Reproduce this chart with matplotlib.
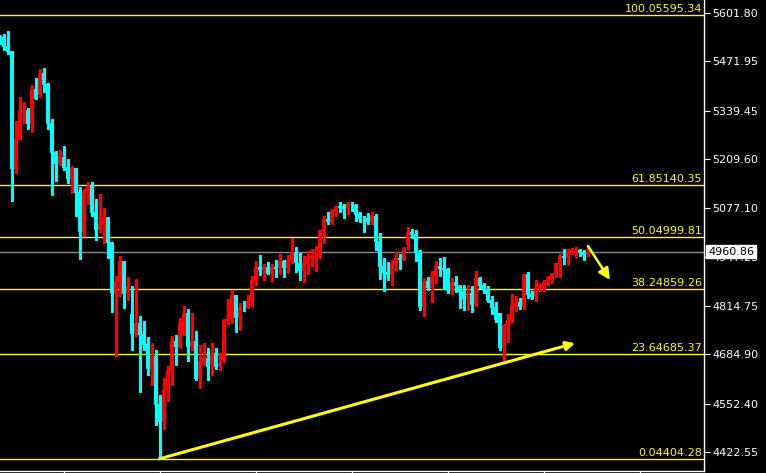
import numpy as np
import matplotlib.pyplot as plt

# daily candles (index -1 is the one cut by the left edge)
opens = [5537.3, 5537.3, 5513.2, 5499.7, 5182.7, 5263.3, 5335.8, 5341.2, 5303.7, 5397.6,
         5381.5, 5440.6, 5411.1, 5306.3, 5228.4, 5196.2, 5215.0, 5188.1, 5155.9, 5185.4,
         5120.9, 5013.5, 5118.2, 5137.1, 5067.2, 5018.9, 5032.3, 5053.8, 4986.6, 4849.6,
         4879.2, 4935.6, 4847.0, 4793.3, 4739.6, 4769.0, 4739.6, 4712.7, 4645.5, 4680.4,
         4551.5, 4503.1, 4586.4, 4640.1, 4720.7, 4704.6, 4742.2, 4795.9, 4704.6, 4720.7,
         4618.6, 4664.3, 4675.0, 4656.3, 4688.4, 4650.9, 4667.0, 4774.4, 4779.8, 4844.3,
         4782.5, 4812.0, 4809.3, 4825.4, 4881.9, 4919.5, 4911.4, 4919.5, 4900.7, 4919.5,
         4916.8, 4935.6, 4916.8, 4935.6, 4957.1, 4930.2, 4908.7, 4927.6, 4943.7, 4946.4,
         4946.4, 5016.2, 5048.4, 5040.3, 5069.9, 5083.4, 5083.4, 5075.3, 5086.1, 5086.1,
         5061.9, 5051.1, 5051.1, 5040.3, 5056.5, 4989.3, 4922.2, 4906.0, 4898.0, 4927.6,
         4943.7, 4938.3, 4978.6, 5013.5, 5008.2, 4962.5, 4812.0, 4881.9, 4863.1, 4895.3,
         4922.2, 4916.8, 4914.1, 4855.0, 4879.2, 4868.5, 4855.0, 4833.5, 4849.6, 4817.4,
         4889.9, 4871.2, 4860.4, 4830.8, 4812.0, 4795.9, 4702.0, 4761.0, 4774.4, 4814.7,
         4825.4, 4812.0, 4900.7, 4846.9, 4838.9, 4860.4, 4865.8, 4876.5, 4887.2, 4900.7,
         4927.6, 4949.1, 4943.7, 4959.8, 4962.5, 4965.2, 4959.8, 4951.8]
highs = [5542.7, 5545.4, 5553.4, 5499.7, 5311.7, 5376.1, 5362.7, 5346.6, 5408.4, 5427.2,
         5451.3, 5454.0, 5413.7, 5317.0, 5231.1, 5233.8, 5244.5, 5209.6, 5190.8, 5185.4,
         5134.4, 5129.0, 5147.8, 5147.8, 5102.1, 5115.6, 5078.0, 5053.8, 4986.6, 4895.3,
         4949.1, 4935.6, 4892.6, 4868.5, 4887.2, 4787.9, 4774.4, 4731.5, 4715.3, 4696.5,
         4575.7, 4621.3, 4653.6, 4734.2, 4736.9, 4782.5, 4814.7, 4806.6, 4795.9, 4747.6,
         4710.0, 4715.3, 4702.0, 4715.3, 4702.0, 4688.4, 4779.8, 4833.5, 4857.7, 4844.3,
         4822.7, 4828.1, 4844.3, 4895.3, 4935.6, 4951.8, 4927.6, 4932.9, 4927.6, 4938.3,
         4954.5, 4938.3, 4951.8, 4997.4, 4973.2, 4957.1, 4949.1, 4962.5, 4967.8, 4975.9,
         5020.0, 5056.5, 5067.2, 5075.3, 5083.4, 5094.1, 5088.8, 5094.1, 5094.1, 5088.8,
         5067.2, 5056.5, 5064.5, 5067.2, 5061.9, 5010.8, 4943.7, 4932.9, 4938.3, 4959.8,
         4954.5, 4973.2, 5026.9, 5021.6, 5018.9, 4965.2, 4889.9, 4892.6, 4908.7, 4935.6,
         4943.7, 4946.4, 4916.8, 4889.9, 4895.3, 4871.2, 4871.2, 4871.2, 4868.5, 4908.7,
         4892.6, 4876.5, 4868.5, 4841.6, 4825.4, 4797.0, 4766.4, 4793.3, 4846.9, 4841.6,
         4836.2, 4901.0, 4906.0, 4855.0, 4884.6, 4873.8, 4884.6, 4895.3, 4904.0, 4931.0,
         4954.5, 4967.8, 4967.8, 4970.5, 4973.2, 4967.8, 4965.2, 4973.2]
lows = [5518.6, 5502.4, 5491.7, 5096.8, 5172.0, 5263.3, 5306.3, 5290.2, 5282.1, 5370.7,
        5376.1, 5389.5, 5290.2, 5112.9, 5150.5, 5193.5, 5180.1, 5145.1, 5118.2, 5056.5,
        4941.0, 5002.8, 5088.8, 5056.5, 4992.0, 5013.5, 4983.9, 4943.7, 4798.6, 4680.4,
        4841.6, 4809.3, 4830.8, 4696.5, 4734.2, 4583.7, 4696.5, 4629.4, 4602.5, 4495.1,
        4404.3, 4484.3, 4559.5, 4602.5, 4656.3, 4702.0, 4736.9, 4667.0, 4696.5, 4615.9,
        4594.4, 4656.3, 4615.9, 4629.4, 4645.5, 4642.8, 4664.3, 4766.4, 4769.0, 4744.9,
        4750.3, 4801.3, 4809.3, 4814.7, 4871.2, 4898.0, 4884.6, 4900.7, 4881.9, 4892.6,
        4900.7, 4892.6, 4903.3, 4930.2, 4906.0, 4884.6, 4879.2, 4900.7, 4922.2, 4908.7,
        4944.0, 4983.9, 5035.0, 5035.0, 5056.5, 5067.2, 5051.1, 5061.9, 5069.9, 5043.0,
        5040.3, 5013.5, 5035.0, 5035.0, 4965.2, 4887.2, 4855.0, 4884.6, 4871.2, 4911.4,
        4914.1, 4937.0, 4967.8, 4997.4, 4935.6, 4804.0, 4787.9, 4857.7, 4825.4, 4876.5,
        4895.3, 4860.4, 4849.6, 4847.0, 4852.3, 4809.3, 4804.0, 4804.0, 4798.6, 4814.7,
        4863.1, 4849.6, 4825.4, 4793.3, 4771.7, 4696.5, 4669.7, 4718.0, 4771.7, 4801.3,
        4806.6, 4806.6, 4836.2, 4833.5, 4828.1, 4855.0, 4855.0, 4871.2, 4876.5, 4892.6,
        4892.6, 4927.6, 4924.9, 4954.5, 4943.7, 4949.1, 4938.3, 4949.1]
closes = [5523.9, 5510.5, 5497.0, 5182.7, 5266.0, 5338.5, 5341.2, 5303.7, 5397.6, 5370.7,
          5440.6, 5408.4, 5303.7, 5225.7, 5196.2, 5217.7, 5185.4, 5155.9, 5185.4, 5118.2,
          5013.5, 5123.6, 5137.1, 5064.5, 5018.9, 5035.0, 5053.8, 4983.9, 4849.6, 4881.9,
          4935.6, 4847.0, 4868.5, 4739.6, 4769.0, 4736.9, 4710.0, 4645.5, 4680.4, 4548.8,
          4503.1, 4589.1, 4642.8, 4720.7, 4704.6, 4769.0, 4795.9, 4704.6, 4720.7, 4618.6,
          4667.0, 4675.0, 4650.9, 4685.8, 4650.9, 4661.6, 4777.1, 4782.5, 4844.3, 4782.5,
          4812.0, 4811.0, 4828.1, 4884.6, 4919.5, 4911.4, 4919.5, 4900.7, 4919.5, 4914.1,
          4935.6, 4916.8, 4938.3, 4957.1, 4930.2, 4908.7, 4930.2, 4946.4, 4949.1, 4949.1,
          5018.9, 5048.4, 5040.3, 5072.6, 5083.4, 5078.0, 5075.3, 5088.8, 5085.0, 5059.2,
          5048.4, 5050.0, 5040.3, 5056.5, 4986.6, 4919.5, 4903.3, 4898.0, 4930.2, 4943.7,
          4938.3, 4967.8, 5013.5, 5005.5, 4957.1, 4812.0, 4881.9, 4863.1, 4898.0, 4922.2,
          4914.1, 4911.4, 4855.0, 4879.2, 4868.5, 4852.3, 4833.5, 4849.6, 4817.4, 4889.9,
          4868.5, 4860.4, 4828.1, 4809.3, 4777.1, 4702.0, 4763.7, 4777.1, 4817.4, 4825.4,
          4812.0, 4900.7, 4844.3, 4838.9, 4863.1, 4868.5, 4879.2, 4889.9, 4903.3, 4930.2,
          4949.1, 4943.7, 4965.2, 4965.2, 4965.2, 4959.8, 4951.8, 4960.86]

fib_pct = [100.0, 61.8, 50.0, 38.2, 23.6, 0.0]
fib_price = [5595.34, 5140.35, 4999.81, 4859.26, 4685.37, 4404.28]
price_ticks = [5601.80, 5471.95, 5339.45, 5209.60, 5077.10,
               4947.25, 4814.75, 4684.90, 4552.40, 4422.55]
last_price = 4960.86

o = np.array(opens)
h = np.array(highs)
l = np.array(lows)
c = np.array(closes)
x = np.arange(len(o)) - 1

fig = plt.figure(figsize=(7.66, 4.73), dpi=100, facecolor='black')
ax = fig.add_axes([0, 2/473, 704/766, 471/473])
ax.set_facecolor('black')

col = np.where(c >= o, '#ff0000', '#00ffff')
ax.vlines(x, l, h, colors=col, linewidth=0.75, antialiased=False, zorder=3)
ax.bar(x, np.maximum(np.abs(c - o), 2.0), bottom=np.minimum(o, c), width=0.6,
       color=col, linewidth=0, antialiased=False, zorder=4)

# fibonacci levels
for pct, p in zip(fib_pct, fib_price):
    ax.axhline(p, color='#ffff00', lw=1.0, zorder=2)
    ax.annotate(f'{pct:.1f}{p:.2f}', xy=(1, p), xycoords=('axes fraction', 'data'),
                xytext=(-2, 1), textcoords='offset pixels', ha='right', va='bottom',
                color='#ffff00', fontsize=8)

ax.axhline(last_price, color='#8c8c8c', lw=1.0, zorder=2)

# hand drawn arrows
ax.annotate('', xy=(142.9, 4715), xytext=(39, 4404.3),
            arrowprops=dict(arrowstyle='-|>', color='#ffff00', lw=2.2,
                            mutation_scale=13, shrinkA=0, shrinkB=0), zorder=5)
ax.annotate('', xy=(151.6, 4885), xytext=(146.1, 4976),
            arrowprops=dict(arrowstyle='-|>', color='#ffff00', lw=1.8,
                            mutation_scale=17, shrinkA=0, shrinkB=0), zorder=5)

ax.set_xlim(-0.875, 175.125)
ax.set_ylim(4371.51, 5636.72)

ax.yaxis.tick_right()
ax.set_yticks(price_ticks)
ax.set_yticklabels([f'{t:.2f}' for t in price_ticks])
ax.tick_params(axis='y', colors='white', labelsize=8, length=4, pad=2)
ax.set_xticks(np.arange(15, 175, 24))
ax.set_xticklabels([])
ax.tick_params(axis='x', colors='white', length=3)

for s in ['left', 'top']:
    ax.spines[s].set_visible(False)
for s in ['right', 'bottom']:
    ax.spines[s].set_color('white')
    ax.spines[s].set_linewidth(1.0)

# current price tag sits over the 4947.25 label, as on the terminal
ax.annotate(f'{last_price:.2f}', xy=(1, last_price), xycoords=('axes fraction', 'data'),
            xytext=(4, 0), textcoords='offset pixels', ha='left', va='center',
            color='black', fontsize=8, annotation_clip=False,
            bbox=dict(boxstyle='square,pad=0.15', fc='white', ec='white'))

plt.savefig('out.png', dpi=100, facecolor='black')
